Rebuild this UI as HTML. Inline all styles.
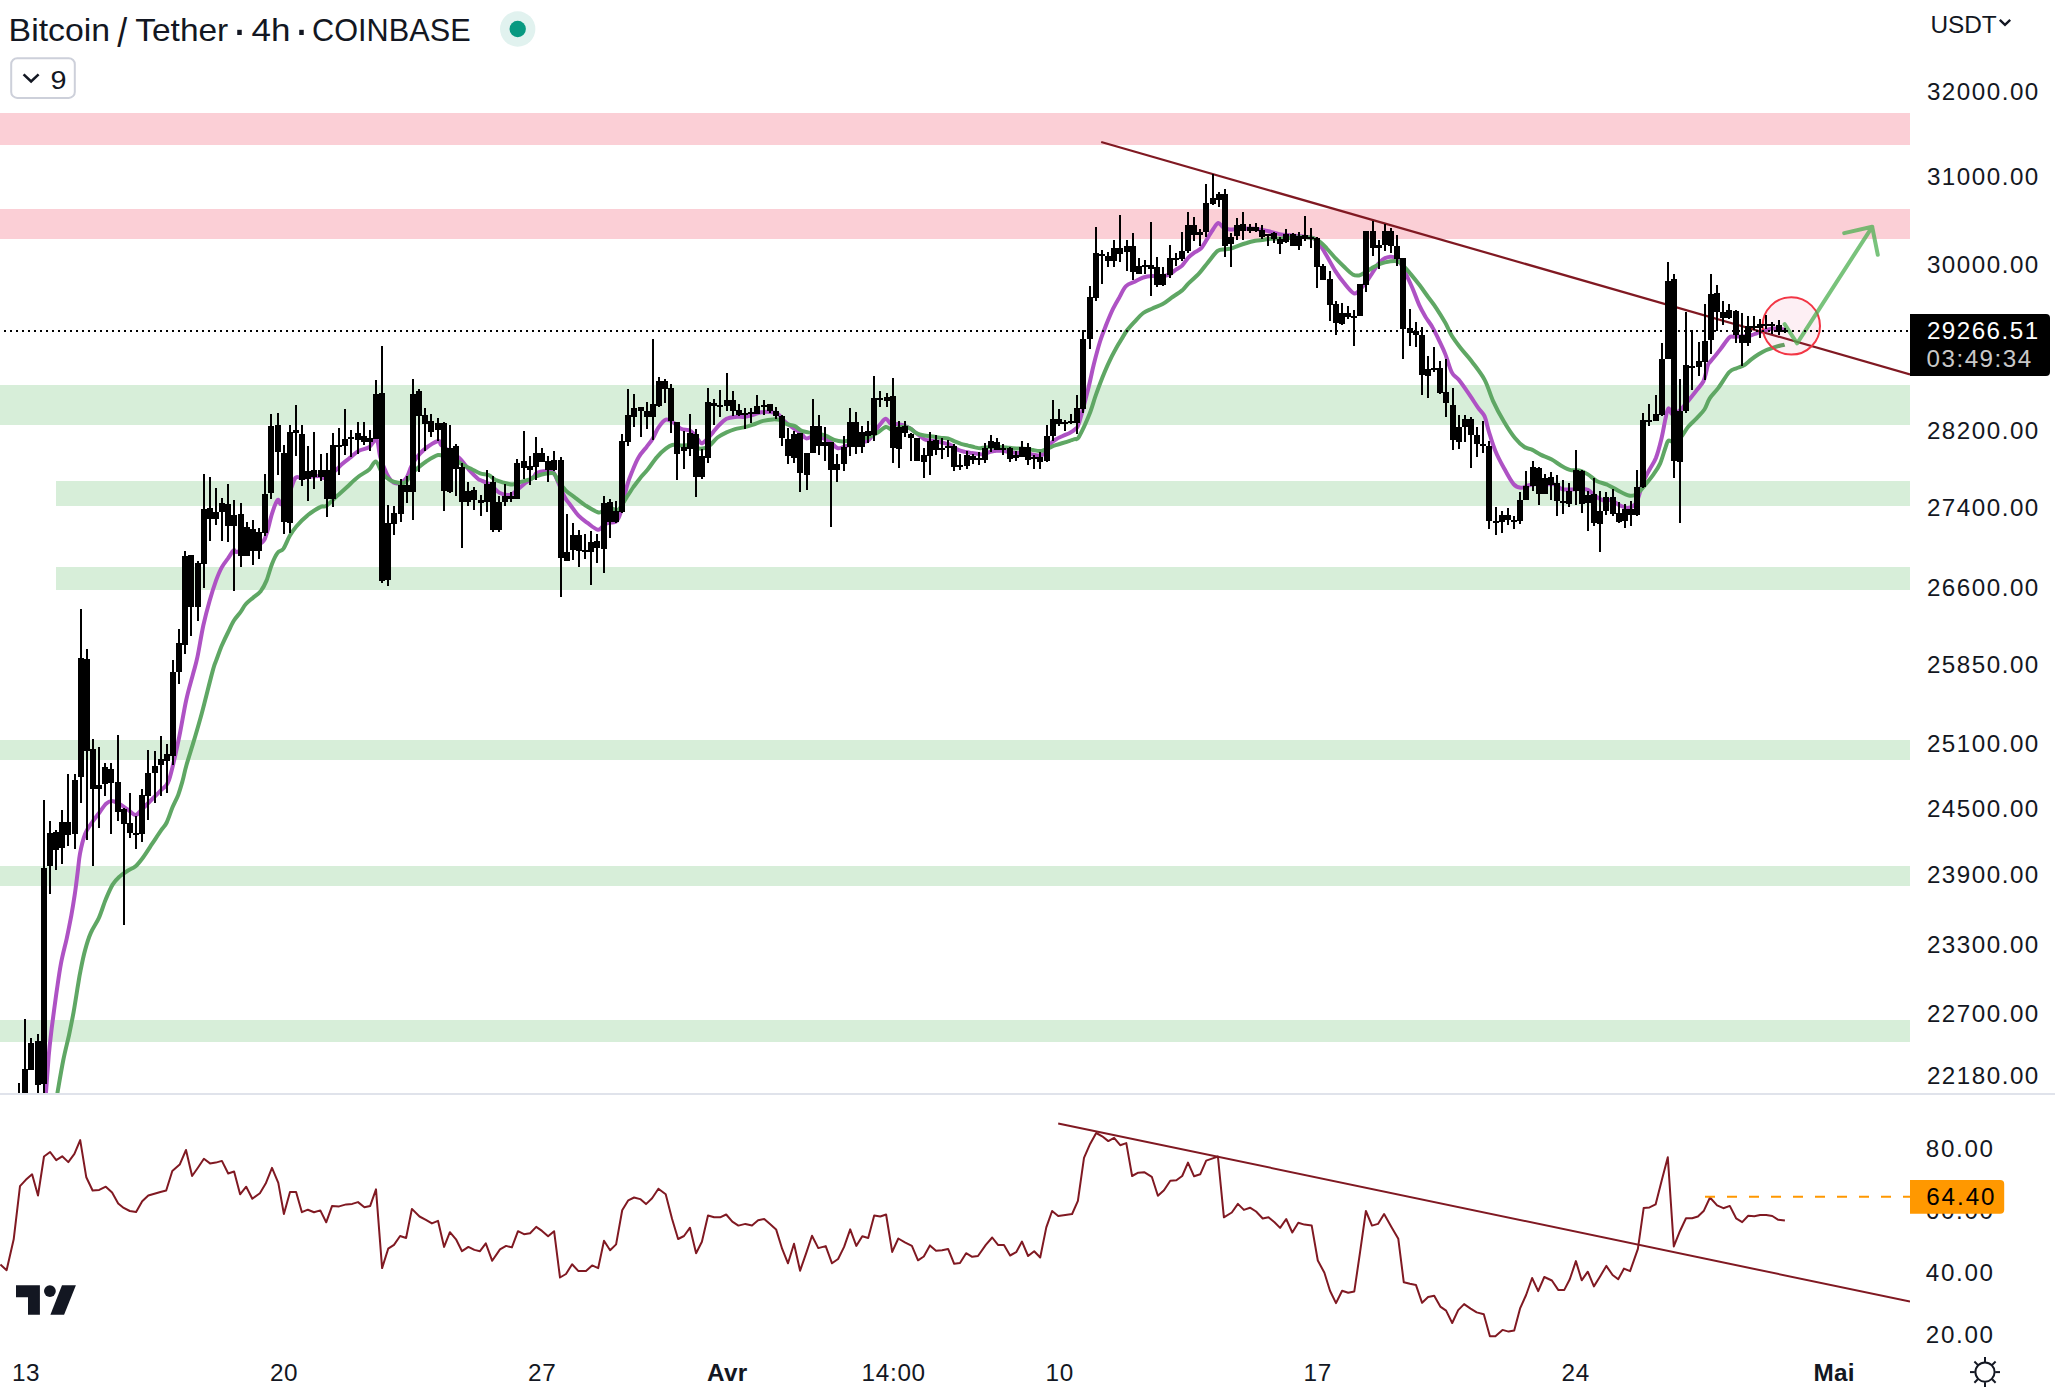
<!DOCTYPE html>
<html lang="fr"><head><meta charset="utf-8"><title>Bitcoin / Tether · 4h · COINBASE</title>
<style>
html,body{margin:0;padding:0;background:#fff;}
body{width:2055px;height:1392px;overflow:hidden;position:relative;font-family:"Liberation Sans",sans-serif;}
svg{position:absolute;left:0;top:0;display:block}
text{font-family:"Liberation Sans",sans-serif;fill:#131722}
</style></head><body>
<svg width="2055" height="1392" viewBox="0 0 2055 1392">
<defs><clipPath id="pc"><rect x="0" y="0" width="1910" height="1093"/></clipPath>
<clipPath id="rc"><rect x="0" y="1095" width="1910" height="262"/></clipPath></defs>
<rect width="2055" height="1392" fill="#fff"/>

<rect x="0" y="113" width="1910" height="32" fill="#FBCFD6"/>
<rect x="0" y="209" width="1910" height="30" fill="#FBCFD6"/>
<rect x="0" y="385" width="1910" height="40" fill="#D7EED9"/>
<rect x="56" y="481" width="1854" height="25" fill="#D7EED9"/>
<rect x="56" y="567" width="1854" height="23" fill="#D7EED9"/>
<rect x="0" y="740" width="1910" height="20" fill="#D7EED9"/>
<rect x="0" y="866" width="1910" height="20" fill="#D7EED9"/>
<rect x="0" y="1020" width="1910" height="22" fill="#D7EED9"/>
<g clip-path="url(#pc)">
<path d="M45.3 1101.8 C45.9 1094.2 47.7 1068.1 48.7 1055.9 C49.8 1043.6 50.5 1038.6 51.7 1028.3 C53.0 1017.9 54.8 1004.5 56.3 993.8 C57.9 983.1 59.2 973.1 60.9 963.9 C62.6 954.7 64.9 946.7 66.7 938.6 C68.4 930.6 69.9 922.9 71.3 915.6 C72.6 908.4 73.6 902.2 74.7 894.9 C75.8 887.7 76.8 878.9 77.7 872.0 C78.6 865.1 78.8 859.9 80.0 853.6 C81.2 847.2 83.1 839.2 85.1 834.0 C87.0 828.9 89.7 826.0 92.0 822.5 C94.3 819.1 96.6 816.4 98.9 813.3 C101.1 810.3 103.6 806.2 105.7 804.1 C107.9 802.1 109.7 801.1 112.0 801.1 C114.3 801.1 116.9 802.8 119.5 804.1 C122.1 805.5 124.9 807.6 127.6 809.4 C130.3 811.2 133.1 815.1 135.6 814.9 C138.1 814.8 139.8 811.3 142.5 808.7 C145.2 806.2 148.7 802.6 151.7 799.5 C154.8 796.5 158.0 793.6 160.9 790.3 C163.8 787.1 166.0 788.3 169.0 780.0 C171.9 771.7 175.6 753.8 178.5 740.4 C181.4 727.1 183.8 710.8 186.3 699.7 C188.7 688.6 191.3 680.8 193.1 673.7 C195.0 666.6 195.7 665.2 197.4 657.2 C199.1 649.2 201.3 634.8 203.3 625.5 C205.4 616.1 207.4 608.6 209.5 601.2 C211.6 593.7 214.0 586.2 216.0 580.6 C218.1 575.0 219.6 571.3 221.6 567.6 C223.7 563.8 226.1 561.1 228.2 558.2 C230.2 555.3 232.2 551.3 233.8 550.2 C235.3 549.1 233.0 552.8 237.5 551.7 C242.0 550.5 256.0 546.2 260.9 543.3 C265.7 540.3 264.6 538.9 266.5 533.9 C268.3 529.0 270.2 519.1 272.1 513.4 C273.9 507.7 276.1 501.5 277.7 499.9 C279.2 498.4 279.5 505.1 281.4 504.0 C283.3 503.0 286.5 498.1 288.9 493.8 C291.2 489.4 293.2 480.5 295.4 477.9 C297.6 475.3 298.1 478.2 301.9 477.9 C305.8 477.6 315.0 476.0 318.8 476.0 C322.5 476.0 321.6 478.8 324.4 477.9 C327.2 477.0 332.6 472.8 335.6 470.4 C338.5 468.1 339.6 466.1 342.1 463.9 C344.6 461.7 347.7 459.5 350.5 457.4 C353.3 455.2 355.8 452.5 358.9 450.8 C362.0 449.1 366.2 449.0 369.2 447.1 C372.1 445.2 374.8 437.9 376.7 439.6 C378.5 441.3 378.7 451.6 380.4 457.4 C382.1 463.1 384.8 470.0 386.9 474.2 C389.1 478.4 391.1 481.2 393.5 482.6 C395.8 484.0 398.8 483.3 400.9 482.6 C403.1 481.8 404.8 480.5 406.5 477.9 C408.3 475.3 409.7 469.8 411.2 466.7 C412.7 463.6 413.3 462.2 415.4 459.3 C417.6 456.5 420.3 452.7 424.1 449.6 C427.8 446.6 435.2 441.7 438.1 441.0 C440.9 440.3 439.0 443.3 441.3 445.3 C443.6 447.3 448.8 450.5 452.1 452.8 C455.3 455.2 457.8 456.4 460.7 459.3 C463.6 462.2 466.4 466.9 469.3 470.1 C472.2 473.3 475.8 476.9 477.9 478.7 C480.1 480.5 480.1 479.8 482.2 480.9 C484.4 481.9 488.0 483.2 490.9 485.2 C493.7 487.1 496.2 491.1 499.5 492.7 C502.7 494.3 507.0 495.6 510.3 494.9 C513.5 494.2 516.4 490.4 518.9 488.4 C521.4 486.4 522.8 485.0 525.3 483.0 C527.9 481.0 532.1 478.2 534.0 476.6 C535.8 474.9 534.6 474.0 536.5 473.0 C538.3 472.1 542.4 471.1 545.1 470.9 C547.8 470.6 550.7 470.1 552.6 471.5 C554.6 472.9 555.0 475.3 556.9 479.5 C558.9 483.7 562.1 492.3 564.5 496.7 C566.8 501.1 568.6 502.6 570.9 505.8 C573.3 508.9 575.8 512.9 578.5 515.7 C581.2 518.5 583.9 520.3 587.1 522.6 C590.3 524.9 595.0 529.3 597.9 529.7 C600.8 530.1 602.4 525.9 604.4 524.7 C606.3 523.6 607.8 523.1 609.7 522.6 C611.7 522.0 614.4 523.1 616.2 521.5 C618.0 519.9 618.7 518.8 620.5 512.9 C622.3 507.0 625.0 493.0 627.0 485.9 C629.0 478.9 630.4 475.7 632.4 470.9 C634.3 466.0 636.5 460.8 638.8 456.9 C641.2 452.9 644.0 450.2 646.4 447.2 C648.7 444.1 650.9 441.8 652.8 438.5 C654.8 435.3 656.1 430.9 658.2 427.8 C660.4 424.6 663.3 420.5 665.8 419.6 C668.3 418.7 670.8 420.8 673.3 422.4 C675.8 423.9 678.0 427.4 680.9 428.8 C683.7 430.3 687.9 429.4 690.6 431.0 C693.3 432.5 695.2 436.1 697.0 438.1 C698.8 440.2 699.7 443.0 701.3 443.3 C703.0 443.5 704.7 441.5 706.7 439.6 C708.7 437.7 711.0 434.6 713.2 432.1 C715.3 429.6 717.4 426.7 719.7 424.5 C721.9 422.3 723.9 420.1 726.5 418.8 C729.0 417.5 732.2 417.2 735.1 416.9 C738.0 416.5 740.8 417.1 743.7 416.9 C746.6 416.6 749.5 415.9 752.3 415.1 C755.2 414.4 758.1 412.9 760.9 412.3 C763.8 411.8 766.7 411.6 769.6 411.9 C772.4 412.2 775.7 412.4 778.2 414.1 C780.7 415.7 782.1 419.3 784.7 421.6 C787.2 423.9 790.6 426.2 793.3 428.1 C796.0 430.0 798.7 431.3 800.8 433.0 C803.0 434.7 803.9 438.0 806.2 438.4 C808.5 438.8 812.1 435.7 814.8 435.6 C817.5 435.5 819.9 436.8 822.4 437.8 C824.9 438.7 827.4 439.7 829.9 441.4 C832.4 443.1 834.9 447.3 837.5 448.1 C840.0 448.9 842.3 447.2 845.0 446.4 C847.7 445.6 850.7 443.9 853.6 443.1 C856.5 442.4 859.7 442.6 862.2 442.1 C864.8 441.5 866.6 441.7 868.7 439.9 C870.9 438.1 873.2 434.0 875.2 431.3 C877.1 428.6 878.8 425.8 880.6 423.8 C882.4 421.7 884.2 418.7 885.9 418.8 C887.7 418.9 889.2 423.3 891.3 424.2 C893.5 425.1 896.2 423.7 898.9 424.2 C901.6 424.6 905.0 425.8 907.5 427.0 C910.0 428.2 911.2 429.3 914.0 431.3 C916.8 433.3 921.4 437.7 924.3 439.2 C927.2 440.8 928.9 440.1 931.3 440.5 C933.6 440.9 935.9 441.2 938.3 441.7 C940.6 442.2 943.1 442.8 945.3 443.4 C947.5 444.0 949.4 444.3 951.4 445.4 C953.5 446.4 955.4 448.5 957.6 449.6 C959.7 450.6 962.2 451.2 964.6 451.8 C966.9 452.3 969.2 452.7 971.6 453.1 C973.9 453.4 976.5 453.7 978.6 453.9 C980.6 454.2 982.1 454.7 983.8 454.4 C985.6 454.1 987.3 452.7 989.1 452.2 C990.8 451.6 992.4 451.3 994.3 451.0 C996.2 450.8 998.6 450.4 1000.5 450.4 C1002.4 450.5 1003.8 450.9 1005.7 451.3 C1007.6 451.7 1009.7 452.3 1011.9 452.6 C1014.0 452.9 1016.5 453.0 1018.9 453.1 C1021.2 453.2 1023.7 453.0 1025.9 453.2 C1028.1 453.5 1030.0 454.0 1032.0 454.4 C1034.0 454.8 1036.4 455.4 1038.1 455.5 C1039.9 455.6 1041.1 455.7 1042.5 454.8 C1044.0 454.0 1045.6 452.3 1046.9 450.4 C1048.2 448.6 1048.9 445.7 1050.4 443.9 C1051.9 442.0 1053.6 440.8 1055.7 439.5 C1057.7 438.2 1060.3 437.1 1062.7 436.0 C1065.0 434.9 1067.6 434.0 1069.7 432.9 C1071.7 431.8 1073.4 431.0 1074.9 429.4 C1076.5 427.8 1076.6 430.1 1078.9 423.3 C1081.1 416.5 1085.8 398.2 1088.3 388.4 C1090.8 378.7 1091.7 372.6 1093.7 364.7 C1095.7 356.8 1098.0 347.9 1100.2 341.0 C1102.3 334.2 1104.5 329.2 1106.6 323.8 C1108.8 318.4 1110.9 313.2 1113.1 308.7 C1115.3 304.2 1117.4 300.6 1119.6 296.9 C1121.7 293.1 1123.5 288.6 1126.0 286.1 C1128.5 283.6 1131.8 283.2 1134.7 281.8 C1137.5 280.3 1140.4 278.4 1143.3 277.5 C1146.1 276.5 1149.0 276.1 1151.9 275.9 C1154.8 275.8 1157.6 276.6 1160.5 276.4 C1163.4 276.2 1166.6 275.7 1169.1 274.7 C1171.7 273.6 1173.4 271.4 1175.6 269.9 C1177.8 268.4 1179.9 267.7 1182.1 265.6 C1184.2 263.5 1186.4 259.6 1188.5 257.4 C1190.7 255.2 1192.8 253.8 1195.0 252.2 C1197.2 250.7 1199.3 250.4 1201.5 247.9 C1203.6 245.5 1206.0 240.7 1207.9 237.6 C1209.9 234.4 1211.6 231.4 1213.3 229.0 C1215.0 226.5 1216.7 223.2 1218.3 222.9 C1219.9 222.6 1221.1 226.2 1223.0 227.2 C1224.9 228.3 1227.0 229.1 1229.5 229.4 C1232.0 229.7 1234.9 229.1 1238.1 229.0 C1241.3 228.8 1245.3 228.5 1248.9 228.5 C1252.5 228.6 1256.4 228.9 1259.7 229.4 C1262.9 229.8 1265.3 230.5 1268.6 231.2 C1271.9 232.0 1275.4 233.3 1279.4 234.1 C1283.3 234.8 1288.4 235.1 1292.3 235.6 C1296.3 236.0 1299.5 236.2 1303.1 236.6 C1306.7 237.1 1311.0 236.9 1313.9 238.4 C1316.8 239.8 1318.2 242.3 1320.3 245.3 C1322.5 248.2 1324.3 251.7 1326.8 256.0 C1329.3 260.3 1332.6 266.6 1335.4 271.1 C1338.3 275.6 1341.0 279.3 1344.1 283.0 C1347.1 286.7 1351.2 292.1 1353.8 293.3 C1356.3 294.6 1357.2 292.2 1359.1 290.5 C1361.1 288.8 1363.4 285.8 1365.6 283.0 C1367.8 280.1 1369.9 276.5 1372.1 273.3 C1374.2 270.0 1376.4 266.1 1378.5 263.6 C1380.7 261.1 1382.5 259.3 1385.0 258.2 C1387.5 257.1 1391.1 256.4 1393.6 257.1 C1396.1 257.8 1397.9 259.4 1400.1 262.5 C1402.2 265.6 1404.4 270.9 1406.6 275.4 C1408.7 279.9 1410.9 284.4 1413.0 289.4 C1415.2 294.5 1417.3 300.9 1419.5 305.6 C1421.6 310.3 1423.8 313.9 1425.9 317.5 C1428.1 321.0 1430.3 323.4 1432.4 327.2 C1434.6 330.9 1436.7 335.6 1438.9 340.1 C1441.0 344.6 1443.2 348.7 1445.3 354.1 C1447.5 359.5 1449.6 368.2 1451.8 372.4 C1454.0 376.7 1455.7 375.9 1458.6 379.6 C1461.6 383.3 1466.2 390.0 1469.4 394.7 C1472.6 399.3 1475.5 404.0 1478.0 407.6 C1480.5 411.2 1482.7 412.3 1484.5 416.2 C1486.3 420.2 1487.0 425.5 1488.8 431.3 C1490.6 437.0 1492.7 444.6 1495.3 450.7 C1497.8 456.8 1500.8 462.4 1503.9 467.9 C1506.9 473.5 1510.7 480.8 1513.6 484.1 C1516.5 487.4 1518.8 487.5 1521.1 487.8 C1523.5 488.0 1525.1 486.2 1527.6 485.6 C1530.1 485.0 1533.3 484.2 1536.2 484.1 C1539.1 484.0 1542.0 484.7 1544.8 484.7 C1547.7 484.7 1550.6 483.4 1553.4 484.1 C1556.3 484.8 1559.2 488.2 1562.1 489.1 C1564.9 489.9 1567.8 489.5 1570.7 489.5 C1573.6 489.5 1576.4 489.0 1579.3 489.1 C1582.2 489.1 1585.4 488.8 1587.9 489.9 C1590.4 491.0 1591.9 493.8 1594.4 495.5 C1596.9 497.2 1600.1 499.5 1603.0 500.3 C1605.9 501.0 1608.8 499.4 1611.6 500.3 C1614.5 501.2 1617.4 504.4 1620.3 505.6 C1623.1 506.9 1626.2 508.4 1628.9 507.8 C1631.6 507.2 1634.1 506.3 1636.5 502.2 C1638.8 498.0 1640.8 488.1 1642.9 482.8 C1645.1 477.4 1647.2 474.0 1649.4 469.8 C1651.6 465.7 1653.9 463.0 1655.9 458.0 C1657.8 452.9 1659.6 446.3 1661.2 439.7 C1662.9 433.0 1664.4 423.3 1665.6 418.1 C1666.7 412.9 1667.3 409.1 1668.4 408.4 C1669.4 407.7 1670.2 413.4 1672.0 413.8 C1673.9 414.2 1676.9 412.7 1679.6 410.6 C1682.3 408.4 1685.3 404.3 1688.2 400.9 C1691.1 397.4 1694.3 393.3 1696.8 390.1 C1699.3 386.9 1701.7 384.5 1703.3 381.5 C1704.8 378.5 1705.4 374.8 1706.2 372.0 C1707.0 369.2 1707.1 366.5 1708.1 364.5 C1709.0 362.5 1709.6 362.7 1711.7 360.1 C1713.8 357.6 1717.6 352.9 1720.5 349.1 C1723.4 345.4 1727.0 339.5 1729.3 337.4 C1731.6 335.4 1732.0 337.0 1734.4 336.8 C1736.9 336.6 1741.2 336.6 1744.0 336.3 C1746.8 336.0 1749.1 335.8 1751.3 335.2 C1753.5 334.7 1754.7 333.9 1757.2 333.0 C1759.6 332.2 1763.3 330.8 1765.9 330.1 C1768.6 329.4 1770.8 328.8 1773.3 328.6 C1775.7 328.4 1778.5 328.8 1780.6 329.0 C1782.7 329.2 1784.9 329.6 1785.7 329.7" fill="none" stroke="#AE52C4" stroke-width="4" stroke-linejoin="round"/>
<path d="M55.9 1101.8 C56.1 1100.3 56.2 1099.5 57.5 1092.6 C58.7 1085.7 61.3 1070.0 63.2 1060.5 C65.1 1050.9 67.2 1043.2 69.0 1035.2 C70.7 1027.1 72.1 1020.2 73.6 1012.2 C75.0 1004.1 76.6 993.8 77.7 986.9 C78.9 980.0 79.2 976.9 80.5 970.8 C81.7 964.7 83.3 956.4 85.1 950.1 C86.8 943.8 88.5 938.2 90.8 932.9 C93.1 927.5 96.4 923.5 98.9 917.9 C101.3 912.4 103.4 905.1 105.7 899.5 C108.0 894.0 110.3 888.4 112.6 884.6 C114.9 880.8 117.0 878.9 119.5 876.6 C122.0 874.3 124.9 872.5 127.6 870.8 C130.3 869.1 133.1 868.3 135.6 866.2 C138.1 864.1 139.8 861.8 142.5 858.2 C145.2 854.5 148.7 849.0 151.7 844.4 C154.8 839.8 158.4 834.2 160.9 830.6 C163.4 826.9 164.8 826.4 166.7 822.5 C168.6 818.7 170.5 812.2 172.4 807.6 C174.3 803.0 176.4 799.5 178.2 794.9 C179.9 790.3 181.4 784.9 182.8 780.0 C184.1 775.1 184.4 772.3 186.3 765.7 C188.1 759.1 191.4 749.2 194.0 740.4 C196.6 731.7 198.7 724.8 201.8 713.3 C204.9 701.8 210.1 680.3 212.5 671.6 C214.9 662.8 214.5 665.2 216.0 660.9 C217.6 656.7 219.6 650.8 221.6 646.0 C223.7 641.2 226.1 636.2 228.2 632.0 C230.2 627.8 231.8 624.1 233.8 620.8 C235.8 617.5 238.3 615.2 240.3 612.4 C242.3 609.6 243.7 606.5 245.9 604.0 C248.1 601.5 250.9 599.6 253.4 597.4 C255.9 595.3 258.7 593.7 260.9 590.9 C263.0 588.1 264.6 585.1 266.5 580.6 C268.3 576.1 270.2 568.5 272.1 563.8 C273.9 559.1 275.8 555.1 277.7 552.6 C279.5 550.1 281.2 551.7 283.3 548.9 C285.3 546.1 287.6 539.5 289.8 535.8 C292.0 532.1 293.4 529.9 296.3 526.5 C299.3 523.0 303.5 518.5 307.6 515.3 C311.6 512.0 317.5 508.4 320.6 506.9 C323.7 505.3 323.4 507.8 326.2 505.9 C329.0 504.0 334.0 498.8 337.4 495.6 C340.9 492.5 343.4 490.4 346.8 487.2 C350.2 484.1 354.2 479.9 358.0 477.0 C361.7 474.0 366.2 472.1 369.2 469.5 C372.1 466.9 373.7 461.2 375.7 461.5 C377.7 461.8 379.5 468.6 381.3 471.4 C383.2 474.1 384.8 476.1 386.9 477.9 C389.1 479.7 391.4 481.2 394.4 482.0 C397.4 482.8 402.0 483.6 404.7 482.6 C407.3 481.6 408.5 478.1 410.3 476.0 C412.1 474.0 412.8 472.5 415.4 470.1 C418.1 467.7 422.4 464.0 426.2 461.5 C430.0 459.0 434.8 455.7 438.1 455.0 C441.3 454.3 442.9 456.4 445.6 457.2 C448.3 457.9 451.4 458.1 454.2 459.3 C457.1 460.6 460.0 463.1 462.8 464.7 C465.7 466.3 468.6 467.6 471.5 469.0 C474.3 470.4 477.2 472.3 480.1 473.3 C483.0 474.3 486.2 474.0 488.7 475.0 C491.2 476.1 492.7 478.5 495.2 479.8 C497.7 481.0 500.9 481.8 503.8 482.6 C506.7 483.4 509.5 484.6 512.4 484.5 C515.3 484.4 518.2 482.8 521.0 481.9 C523.9 481.1 527.1 480.3 529.7 479.4 C532.2 478.4 533.9 477.2 536.5 476.2 C539.0 475.3 542.2 474.1 545.1 473.7 C548.0 473.2 551.6 472.3 553.7 473.4 C555.9 474.6 556.0 477.8 558.0 480.6 C560.0 483.4 562.7 487.4 565.6 490.3 C568.4 493.1 571.8 495.2 575.3 497.8 C578.7 500.4 582.2 503.3 586.0 505.8 C589.9 508.2 595.5 511.8 598.5 512.5 C601.6 513.1 602.1 510.3 604.4 509.7 C606.6 509.0 609.6 508.6 611.9 508.6 C614.2 508.6 615.8 511.6 618.4 509.7 C620.9 507.7 624.5 500.5 627.0 496.7 C629.5 493.0 631.3 490.1 633.4 487.0 C635.6 484.0 637.6 481.3 639.9 478.4 C642.2 475.5 644.6 473.4 647.5 469.8 C650.3 466.2 654.1 460.4 657.2 456.9 C660.2 453.3 663.3 450.6 665.8 448.7 C668.3 446.7 669.7 445.5 672.2 445.0 C674.8 444.5 677.8 445.3 680.9 445.4 C683.9 445.5 687.3 445.1 690.6 445.6 C693.8 446.2 697.2 448.6 700.3 448.7 C703.3 448.7 706.0 447.9 708.9 446.1 C711.8 444.2 714.6 439.7 717.5 437.5 C720.4 435.2 723.5 433.8 726.5 432.4 C729.4 431.0 732.2 430.0 735.1 429.1 C738.0 428.3 740.8 428.1 743.7 427.4 C746.6 426.7 749.1 425.9 752.3 424.8 C755.6 423.8 759.7 421.8 763.1 420.9 C766.5 420.1 769.9 419.6 772.8 419.4 C775.7 419.3 778.0 419.3 780.3 420.1 C782.7 420.9 784.5 423.2 786.8 424.2 C789.1 425.2 791.8 424.8 794.4 425.9 C796.9 427.0 799.6 429.8 801.9 430.9 C804.2 431.9 805.8 431.9 808.4 432.4 C810.9 432.8 814.1 432.9 817.0 433.4 C819.9 434.0 822.7 434.5 825.6 435.6 C828.5 436.7 831.4 438.9 834.2 439.9 C837.1 440.9 840.0 441.4 842.8 441.4 C845.7 441.4 848.6 440.3 851.5 439.9 C854.3 439.5 857.2 439.3 860.1 438.8 C863.0 438.4 865.8 438.1 868.7 437.1 C871.6 436.1 874.5 434.5 877.3 432.8 C880.2 431.1 883.4 427.4 885.9 427.0 C888.5 426.6 889.9 430.2 892.4 430.2 C894.9 430.2 898.2 427.3 901.0 427.0 C903.9 426.6 907.1 427.1 909.7 428.1 C912.2 429.1 913.7 431.8 916.1 433.0 C918.6 434.3 921.7 435.0 924.3 435.5 C926.8 436.1 928.6 435.8 931.3 436.2 C933.9 436.5 937.3 437.4 940.0 437.7 C942.8 438.1 945.6 437.9 947.9 438.4 C950.3 439.0 951.9 440.3 954.0 441.2 C956.2 442.1 958.7 443.1 961.1 443.9 C963.4 444.6 965.7 445.0 968.1 445.6 C970.4 446.2 973.0 446.9 975.1 447.4 C977.1 447.8 978.6 448.2 980.3 448.2 C982.1 448.2 983.5 447.6 985.6 447.4 C987.6 447.2 990.3 447.0 992.6 446.9 C994.9 446.9 997.3 447.0 999.6 447.1 C1001.9 447.2 1004.4 447.2 1006.6 447.4 C1008.8 447.6 1010.7 448.1 1012.7 448.2 C1014.8 448.4 1016.7 448.4 1018.9 448.5 C1021.1 448.6 1023.5 448.6 1025.9 448.9 C1028.2 449.1 1030.5 449.6 1032.9 450.0 C1035.2 450.4 1037.8 451.1 1039.9 451.0 C1041.9 451.0 1043.4 450.2 1045.1 449.6 C1046.9 448.9 1048.6 448.1 1050.4 447.4 C1052.1 446.6 1053.6 445.9 1055.7 445.2 C1057.7 444.5 1060.3 443.7 1062.7 443.0 C1065.0 442.3 1067.6 441.5 1069.7 440.8 C1071.7 440.1 1073.4 439.7 1074.9 439.0 C1076.5 438.4 1076.5 441.0 1078.9 436.9 C1081.3 432.7 1086.6 421.3 1089.4 414.3 C1092.2 407.3 1093.7 401.0 1095.9 394.9 C1098.0 388.8 1100.2 383.1 1102.3 377.7 C1104.5 372.3 1106.6 367.3 1108.8 362.6 C1110.9 357.9 1113.1 353.6 1115.3 349.7 C1117.4 345.7 1119.7 342.1 1121.7 338.9 C1123.7 335.6 1125.0 333.1 1127.1 330.3 C1129.3 327.4 1132.0 324.5 1134.7 321.6 C1137.3 318.8 1140.4 315.2 1143.3 313.0 C1146.1 310.9 1148.7 310.2 1151.9 308.7 C1155.1 307.2 1159.4 305.8 1162.7 304.0 C1165.9 302.2 1168.1 300.2 1171.3 297.9 C1174.5 295.7 1179.2 292.8 1182.1 290.4 C1184.9 287.9 1185.7 286.1 1188.5 283.3 C1191.4 280.4 1196.1 276.6 1199.3 273.1 C1202.5 269.7 1204.9 266.1 1207.9 262.4 C1211.0 258.7 1214.8 253.1 1217.6 250.9 C1220.5 248.8 1222.8 249.9 1225.2 249.4 C1227.5 249.0 1229.5 249.0 1231.6 248.4 C1233.8 247.8 1235.6 246.7 1238.1 245.8 C1240.6 244.9 1243.9 243.8 1246.7 243.0 C1249.6 242.1 1252.5 241.4 1255.3 240.8 C1258.2 240.3 1261.4 240.1 1264.0 239.7 C1266.5 239.4 1267.8 239.0 1270.8 238.8 C1273.7 238.6 1278.0 238.5 1281.6 238.4 C1285.1 238.2 1288.7 237.9 1292.3 237.7 C1295.9 237.5 1299.5 237.0 1303.1 237.1 C1306.7 237.2 1311.0 237.5 1313.9 238.4 C1316.8 239.2 1318.2 240.3 1320.3 242.0 C1322.5 243.7 1324.3 245.8 1326.8 248.5 C1329.3 251.2 1332.6 255.1 1335.4 258.2 C1338.3 261.2 1341.2 264.1 1344.1 266.8 C1346.9 269.5 1350.2 272.9 1352.7 274.4 C1355.2 275.8 1357.0 275.8 1359.1 275.4 C1361.3 275.1 1363.4 273.5 1365.6 272.2 C1367.8 270.9 1369.6 269.3 1372.1 267.9 C1374.6 266.5 1377.8 264.7 1380.7 263.6 C1383.6 262.5 1386.4 261.8 1389.3 261.4 C1392.2 261.1 1395.4 260.5 1397.9 261.4 C1400.4 262.3 1402.2 264.7 1404.4 266.8 C1406.6 269.0 1408.3 271.3 1410.9 274.4 C1413.4 277.4 1416.6 281.4 1419.5 285.1 C1422.4 288.9 1425.2 293.0 1428.1 297.0 C1431.0 300.9 1433.9 304.5 1436.7 308.8 C1439.6 313.1 1442.8 318.4 1445.3 322.8 C1447.9 327.3 1449.2 331.5 1451.8 335.8 C1454.4 340.0 1457.5 344.1 1460.8 348.3 C1464.1 352.6 1467.6 356.0 1471.6 361.2 C1475.5 366.5 1480.9 372.9 1484.5 379.6 C1488.1 386.2 1489.9 394.1 1493.1 401.1 C1496.3 408.1 1500.3 415.5 1503.9 421.6 C1507.5 427.7 1511.2 433.5 1514.7 437.8 C1518.1 442.0 1521.5 445.1 1524.4 447.0 C1527.2 449.0 1529.2 448.4 1531.9 449.6 C1534.6 450.9 1537.3 453.0 1540.5 454.6 C1543.8 456.2 1547.7 457.4 1551.3 459.3 C1554.9 461.2 1558.8 464.4 1562.1 466.2 C1565.3 468.0 1567.8 469.4 1570.7 470.1 C1573.6 470.8 1576.4 469.8 1579.3 470.5 C1582.2 471.2 1585.1 472.7 1587.9 474.4 C1590.8 476.1 1593.3 479.1 1596.6 480.9 C1599.8 482.6 1603.7 483.1 1607.3 484.7 C1610.9 486.4 1614.5 488.8 1618.1 490.6 C1621.7 492.4 1626.0 494.8 1628.9 495.5 C1631.8 496.2 1633.7 495.4 1635.3 494.9 C1637.0 494.4 1637.0 494.1 1638.6 492.5 C1640.2 490.8 1642.6 488.0 1645.1 484.9 C1647.6 481.9 1651.2 477.7 1653.7 474.1 C1656.2 470.5 1658.2 467.9 1660.2 463.4 C1662.1 458.9 1664.2 451.0 1665.6 447.2 C1666.9 443.4 1667.1 441.6 1668.4 440.7 C1669.6 439.8 1671.1 442.3 1673.1 441.8 C1675.2 441.3 1678.1 440.0 1680.6 437.5 C1683.2 435.0 1685.5 430.0 1688.2 426.7 C1690.9 423.5 1694.1 421.0 1696.8 418.1 C1699.5 415.2 1702.2 412.8 1704.4 409.5 C1706.5 406.2 1707.4 401.9 1709.7 398.3 C1712.1 394.7 1715.1 392.3 1718.4 387.9 C1721.6 383.6 1726.3 375.3 1729.3 372.0 C1732.4 368.7 1734.2 369.3 1736.6 368.2 C1739.1 367.1 1741.5 366.7 1744.0 365.3 C1746.4 363.8 1748.9 361.2 1751.3 359.4 C1753.7 357.6 1756.2 355.8 1758.6 354.3 C1761.1 352.7 1763.5 351.3 1765.9 350.2 C1768.4 349.1 1770.8 348.5 1773.3 347.7 C1775.7 346.9 1778.7 346.0 1780.6 345.5 C1782.5 345.0 1784.0 344.9 1784.6 344.7" fill="none" stroke="#5FA764" stroke-width="4" stroke-linejoin="round"/>
<line x1="1101.2" y1="142" x2="1910" y2="374.4" stroke="#801922" stroke-width="2.2"/>
<circle cx="1791.3" cy="325.9" r="28.7" fill="rgba(233,30,99,0.07)" stroke="#F23645" stroke-width="2"/>
<path d="M1784.6 324.2L1797.1 343.3L1872.2 226.8M1844.2 233.1L1872.2 226.8L1877.8 254.8" fill="none" stroke="#4CAF50" stroke-opacity="0.75" stroke-width="4" stroke-linecap="round" stroke-linejoin="round"/>
<path d="M18 1083h2V1111h-2zM24 1019h2V1101h-2zM30 1038h2V1070h-2zM37 1034h2V1101h-2zM43 800h2V1097h-2zM49 821h2V894h-2zM55 830h2V870h-2zM61 810h2V864h-2zM67 774h2V846h-2zM74 774h2V849h-2zM80 609h2V803h-2zM86 649h2V840h-2zM92 739h2V866h-2zM98 747h2V828h-2zM104 763h2V796h-2zM110 763h2V834h-2zM117 735h2V821h-2zM123 808h2V925h-2zM129 793h2V838h-2zM135 816h2V849h-2zM141 789h2V842h-2zM147 750h2V820h-2zM154 751h2V803h-2zM160 736h2V796h-2zM166 744h2V793h-2zM172 660h2V765h-2zM178 629h2V684h-2zM184 551h2V654h-2zM190 555h2V636h-2zM197 561h2V621h-2zM203 474h2V588h-2zM209 477h2V541h-2zM215 488h2V525h-2zM221 498h2V541h-2zM227 484h2V542h-2zM233 500h2V591h-2zM240 503h2V567h-2zM246 522h2V556h-2zM252 520h2V565h-2zM258 528h2V559h-2zM264 474h2V536h-2zM270 414h2V499h-2zM277 413h2V475h-2zM283 445h2V534h-2zM289 425h2V533h-2zM295 405h2V456h-2zM301 425h2V486h-2zM307 446h2V501h-2zM313 432h2V489h-2zM320 454h2V481h-2zM326 453h2V517h-2zM332 433h2V507h-2zM338 428h2V475h-2zM344 409h2V455h-2zM350 430h2V457h-2zM357 422h2V454h-2zM363 422h2V445h-2zM369 430h2V451h-2zM375 380h2V439h-2zM381 346h2V583h-2zM387 505h2V586h-2zM393 506h2V535h-2zM400 479h2V522h-2zM406 476h2V503h-2zM412 379h2V520h-2zM418 389h2V472h-2zM424 408h2V451h-2zM430 414h2V437h-2zM437 418h2V441h-2zM443 422h2V511h-2zM449 425h2V493h-2zM455 444h2V496h-2zM461 463h2V548h-2zM467 482h2V506h-2zM473 487h2V510h-2zM480 495h2V516h-2zM486 470h2V512h-2zM492 476h2V532h-2zM498 496h2V532h-2zM504 484h2V506h-2zM510 492h2V502h-2zM516 459h2V499h-2zM523 431h2V479h-2zM529 456h2V485h-2zM535 437h2V480h-2zM541 448h2V462h-2zM547 456h2V482h-2zM553 451h2V471h-2zM560 457h2V597h-2zM566 514h2V561h-2zM572 523h2V560h-2zM578 530h2V567h-2zM584 534h2V559h-2zM590 531h2V585h-2zM596 534h2V563h-2zM603 496h2V573h-2zM609 499h2V538h-2zM615 501h2V523h-2zM621 434h2V513h-2zM627 389h2V446h-2zM633 394h2V427h-2zM640 407h2V437h-2zM646 402h2V429h-2zM652 339h2V440h-2zM658 377h2V407h-2zM664 379h2V403h-2zM670 384h2V433h-2zM676 422h2V480h-2zM683 431h2V469h-2zM689 414h2V456h-2zM695 429h2V497h-2zM701 449h2V479h-2zM707 388h2V463h-2zM713 399h2V425h-2zM719 390h2V417h-2zM726 373h2V411h-2zM732 391h2V416h-2zM738 404h2V416h-2zM744 408h2V429h-2zM750 408h2V423h-2zM756 395h2V414h-2zM763 400h2V415h-2zM769 404h2V413h-2zM775 407h2V419h-2zM781 415h2V446h-2zM787 428h2V464h-2zM793 431h2V463h-2zM799 433h2V492h-2zM806 453h2V490h-2zM812 399h2V453h-2zM818 415h2V455h-2zM824 427h2V461h-2zM830 442h2V527h-2zM836 454h2V482h-2zM843 436h2V471h-2zM849 408h2V456h-2zM855 412h2V454h-2zM861 426h2V453h-2zM867 421h2V443h-2zM873 376h2V441h-2zM879 391h2V407h-2zM886 393h2V407h-2zM892 378h2V463h-2zM898 421h2V468h-2zM904 421h2V437h-2zM910 433h2V461h-2zM916 438h2V461h-2zM923 448h2V478h-2zM929 432h2V475h-2zM935 435h2V455h-2zM941 438h2V459h-2zM947 440h2V457h-2zM953 444h2V471h-2zM959 454h2V470h-2zM966 451h2V469h-2zM972 454h2V464h-2zM978 452h2V465h-2zM984 443h2V463h-2zM990 435h2V452h-2zM996 438h2V450h-2zM1002 444h2V455h-2zM1009 447h2V462h-2zM1015 451h2V461h-2zM1021 441h2V457h-2zM1027 443h2V465h-2zM1033 455h2V469h-2zM1039 452h2V469h-2zM1046 425h2V462h-2zM1052 400h2V441h-2zM1058 409h2V426h-2zM1064 420h2V431h-2zM1070 414h2V424h-2zM1076 395h2V434h-2zM1082 330h2V413h-2zM1089 286h2V349h-2zM1095 227h2V301h-2zM1101 250h2V284h-2zM1107 252h2V267h-2zM1113 240h2V267h-2zM1119 215h2V262h-2zM1126 240h2V271h-2zM1132 233h2V280h-2zM1138 258h2V274h-2zM1144 260h2V274h-2zM1150 222h2V296h-2zM1156 257h2V287h-2zM1162 267h2V286h-2zM1169 245h2V278h-2zM1175 253h2V266h-2zM1181 232h2V261h-2zM1187 212h2V253h-2zM1193 217h2V241h-2zM1199 229h2V246h-2zM1205 184h2V237h-2zM1212 174h2V205h-2zM1218 192h2V207h-2zM1224 189h2V257h-2zM1230 233h2V267h-2zM1236 218h2V240h-2zM1242 212h2V240h-2zM1249 224h2V233h-2zM1255 223h2V232h-2zM1261 225h2V239h-2zM1267 234h2V246h-2zM1273 232h2V243h-2zM1279 237h2V254h-2zM1285 229h2V243h-2zM1292 233h2V246h-2zM1298 232h2V250h-2zM1304 216h2V241h-2zM1310 228h2V248h-2zM1316 237h2V288h-2zM1322 264h2V280h-2zM1329 271h2V321h-2zM1335 301h2V335h-2zM1341 303h2V325h-2zM1347 306h2V319h-2zM1353 310h2V346h-2zM1359 284h2V316h-2zM1365 231h2V292h-2zM1372 221h2V256h-2zM1378 240h2V269h-2zM1384 224h2V251h-2zM1390 228h2V253h-2zM1396 235h2V266h-2zM1402 258h2V359h-2zM1409 309h2V346h-2zM1415 322h2V347h-2zM1421 327h2V395h-2zM1427 356h2V398h-2zM1433 347h2V372h-2zM1439 361h2V394h-2zM1445 359h2V417h-2zM1452 388h2V450h-2zM1458 415h2V449h-2zM1464 415h2V442h-2zM1470 417h2V468h-2zM1476 427h2V457h-2zM1482 421h2V453h-2zM1488 441h2V529h-2zM1495 507h2V535h-2zM1501 511h2V533h-2zM1507 508h2V525h-2zM1513 516h2V529h-2zM1519 492h2V524h-2zM1525 471h2V500h-2zM1532 461h2V491h-2zM1538 467h2V505h-2zM1544 474h2V494h-2zM1550 472h2V500h-2zM1556 475h2V516h-2zM1562 480h2V514h-2zM1568 483h2V507h-2zM1575 450h2V505h-2zM1581 470h2V513h-2zM1587 491h2V531h-2zM1593 478h2V526h-2zM1599 491h2V552h-2zM1605 492h2V515h-2zM1612 489h2V516h-2zM1618 502h2V523h-2zM1624 504h2V528h-2zM1630 501h2V526h-2zM1636 470h2V516h-2zM1642 413h2V488h-2zM1648 404h2V426h-2zM1655 395h2V421h-2zM1661 343h2V416h-2zM1667 262h2V359h-2zM1673 274h2V478h-2zM1679 379h2V523h-2zM1685 312h2V413h-2zM1691 330h2V390h-2zM1698 342h2V376h-2zM1704 304h2V380h-2zM1710 274h2V354h-2zM1716 285h2V331h-2zM1722 301h2V325h-2zM1728 304h2V319h-2zM1735 310h2V343h-2zM1741 313h2V366h-2zM1747 316h2V346h-2zM1753 316h2V330h-2zM1759 319h2V338h-2zM1765 315h2V329h-2zM1771 322h2V334h-2zM1778 320h2V335h-2zM1784 328h2V333h-2zM16 1101h6V1111h-6zM22 1069h6V1101h-6zM28 1043h6V1070h-6zM35 1041h6V1085h-6zM41 868h6V1084h-6zM47 833h6V866h-6zM53 832h6V850h-6zM59 822h6V848h-6zM65 822h6V835h-6zM72 780h6V834h-6zM78 658h6V777h-6zM84 659h6V751h-6zM90 749h6V789h-6zM96 785h6V789h-6zM102 767h6V784h-6zM108 769h6V783h-6zM115 782h6V812h-6zM121 809h6V824h-6zM127 823h6V833h-6zM133 833h6V835h-6zM139 795h6V834h-6zM145 773h6V796h-6zM152 766h6V773h-6zM158 759h6V765h-6zM164 754h6V761h-6zM170 672h6V756h-6zM176 643h6V672h-6zM182 556h6V645h-6zM188 555h6V607h-6zM195 563h6V607h-6zM201 509h6V564h-6zM207 508h6V519h-6zM213 512h6V519h-6zM219 503h6V512h-6zM225 504h6V526h-6zM231 515h6V526h-6zM238 514h6V556h-6zM244 527h6V556h-6zM250 529h6V551h-6zM256 532h6V551h-6zM262 494h6V533h-6zM268 426h6V493h-6zM275 425h6V452h-6zM281 453h6V522h-6zM287 432h6V523h-6zM293 430h6V433h-6zM299 434h6V480h-6zM305 471h6V479h-6zM311 470h6V477h-6zM318 470h6V477h-6zM324 470h6V499h-6zM330 445h6V499h-6zM336 445h6V447h-6zM342 439h6V446h-6zM348 437h6V439h-6zM355 433h6V440h-6zM361 436h6V442h-6zM367 438h6V442h-6zM373 394h6V439h-6zM379 393h6V581h-6zM385 523h6V580h-6zM391 513h6V524h-6zM398 485h6V514h-6zM404 485h6V492h-6zM410 394h6V492h-6zM416 391h6V416h-6zM422 415h6V424h-6zM428 421h6V432h-6zM435 423h6V430h-6zM441 423h6V491h-6zM447 448h6V492h-6zM453 446h6V469h-6zM459 467h6V502h-6zM465 491h6V502h-6zM471 490h6V500h-6zM478 500h6V503h-6zM484 484h6V502h-6zM490 482h6V530h-6zM496 502h6V530h-6zM502 496h6V502h-6zM508 496h6V499h-6zM514 463h6V499h-6zM521 461h6V468h-6zM527 466h6V470h-6zM533 453h6V467h-6zM539 453h6V462h-6zM545 461h6V470h-6zM551 460h6V470h-6zM558 460h6V558h-6zM564 552h6V561h-6zM570 535h6V550h-6zM576 535h6V551h-6zM582 550h6V552h-6zM588 542h6V552h-6zM594 541h6V548h-6zM601 503h6V549h-6zM607 502h6V522h-6zM613 511h6V522h-6zM619 441h6V512h-6zM625 415h6V442h-6zM631 408h6V417h-6zM638 407h6V411h-6zM644 411h6V417h-6zM650 404h6V417h-6zM656 381h6V406h-6zM662 381h6V389h-6zM668 388h6V421h-6zM674 422h6V454h-6zM681 447h6V451h-6zM687 433h6V449h-6zM693 434h6V477h-6zM699 456h6V477h-6zM705 402h6V458h-6zM711 403h6V406h-6zM717 405h6V407h-6zM724 400h6V406h-6zM730 400h6V411h-6zM736 410h6V415h-6zM742 413h6V415h-6zM748 412h6V414h-6zM754 406h6V414h-6zM761 405h6V407h-6zM767 404h6V411h-6zM773 411h6V416h-6zM779 416h6V438h-6zM785 439h6V456h-6zM791 434h6V458h-6zM797 433h6V473h-6zM804 453h6V475h-6zM810 426h6V453h-6zM816 426h6V446h-6zM822 442h6V446h-6zM828 442h6V470h-6zM834 464h6V470h-6zM841 447h6V464h-6zM847 422h6V447h-6zM853 422h6V447h-6zM859 432h6V447h-6zM865 431h6V436h-6zM871 398h6V435h-6zM877 398h6V400h-6zM884 397h6V401h-6zM890 396h6V448h-6zM896 427h6V449h-6zM902 426h6V433h-6zM908 434h6V438h-6zM914 438h6V461h-6zM921 455h6V462h-6zM927 441h6V456h-6zM933 440h6V450h-6zM939 448h6V450h-6zM945 446h6V448h-6zM951 446h6V467h-6zM957 465h6V467h-6zM964 455h6V466h-6zM970 456h6V460h-6zM976 458h6V460h-6zM982 448h6V460h-6zM988 441h6V448h-6zM994 442h6V450h-6zM1000 448h6V450h-6zM1007 448h6V459h-6zM1013 455h6V458h-6zM1019 447h6V457h-6zM1025 447h6V460h-6zM1031 457h6V459h-6zM1037 457h6V462h-6zM1044 436h6V461h-6zM1050 419h6V436h-6zM1056 419h6V424h-6zM1062 422h6V424h-6zM1068 421h6V423h-6zM1074 408h6V423h-6zM1080 339h6V409h-6zM1087 297h6V339h-6zM1093 253h6V298h-6zM1099 254h6V256h-6zM1105 256h6V261h-6zM1111 248h6V261h-6zM1117 248h6V254h-6zM1124 246h6V252h-6zM1130 246h6V272h-6zM1136 266h6V274h-6zM1142 265h6V267h-6zM1148 265h6V269h-6zM1154 267h6V285h-6zM1160 274h6V285h-6zM1167 258h6V275h-6zM1173 258h6V260h-6zM1179 251h6V259h-6zM1185 225h6V251h-6zM1191 225h6V235h-6zM1197 232h6V235h-6zM1203 203h6V232h-6zM1210 198h6V204h-6zM1216 194h6V200h-6zM1222 194h6V246h-6zM1228 237h6V244h-6zM1234 225h6V236h-6zM1240 224h6V231h-6zM1247 227h6V231h-6zM1253 227h6V231h-6zM1259 230h6V237h-6zM1265 234h6V236h-6zM1271 233h6V239h-6zM1277 239h6V244h-6zM1283 234h6V242h-6zM1290 234h6V246h-6zM1296 236h6V246h-6zM1302 235h6V239h-6zM1308 237h6V239h-6zM1314 238h6V267h-6zM1320 266h6V280h-6zM1327 279h6V305h-6zM1333 304h6V323h-6zM1339 313h6V324h-6zM1345 313h6V317h-6zM1351 316h6V318h-6zM1357 284h6V316h-6zM1363 231h6V285h-6zM1370 231h6V248h-6zM1376 245h6V248h-6zM1382 231h6V245h-6zM1388 231h6V246h-6zM1394 246h6V259h-6zM1400 258h6V329h-6zM1407 328h6V333h-6zM1413 331h6V335h-6zM1419 335h6V375h-6zM1425 369h6V376h-6zM1431 368h6V370h-6zM1437 368h6V393h-6zM1443 392h6V403h-6zM1450 405h6V440h-6zM1456 427h6V442h-6zM1462 419h6V427h-6zM1468 419h6V435h-6zM1474 435h6V444h-6zM1480 444h6V446h-6zM1486 446h6V521h-6zM1493 521h6V523h-6zM1499 515h6V522h-6zM1505 515h6V520h-6zM1511 520h6V522h-6zM1517 500h6V521h-6zM1523 486h6V500h-6zM1530 467h6V486h-6zM1536 468h6V494h-6zM1542 478h6V494h-6zM1548 477h6V485h-6zM1554 483h6V501h-6zM1560 501h6V503h-6zM1566 491h6V504h-6zM1573 470h6V491h-6zM1579 471h6V504h-6zM1585 495h6V503h-6zM1591 494h6V523h-6zM1597 511h6V524h-6zM1603 497h6V511h-6zM1610 497h6V514h-6zM1616 513h6V522h-6zM1622 509h6V521h-6zM1628 509h6V515h-6zM1634 487h6V515h-6zM1640 420h6V487h-6zM1646 420h6V422h-6zM1653 414h6V421h-6zM1659 359h6V415h-6zM1665 281h6V359h-6zM1671 279h6V461h-6zM1677 411h6V462h-6zM1683 365h6V411h-6zM1689 366h6V368h-6zM1696 361h6V367h-6zM1702 341h6V362h-6zM1708 294h6V340h-6zM1714 293h6V312h-6zM1720 312h6V318h-6zM1726 310h6V318h-6zM1733 311h6V335h-6zM1739 335h6V343h-6zM1745 326h6V343h-6zM1751 326h6V328h-6zM1757 324h6V328h-6zM1763 324h6V326h-6zM1769 324h6V326h-6zM1776 325h6V332h-6zM1782 330h6V332h-6z" fill="#000" shape-rendering="crispEdges"/>
<line x1="4" y1="331" x2="1910" y2="331" stroke="#000" stroke-width="2" stroke-dasharray="2 4"/>
</g>
<rect x="0" y="1093" width="2055" height="2" fill="#E0E3EB"/>
<g clip-path="url(#rc)">
<polyline points="0.4,1264.6 6.6,1270.2 13.7,1239.3 20.0,1186.2 25.8,1179.8 32.1,1174.3 38.0,1195.5 44.0,1156.5 50.1,1152.0 56.2,1160.1 62.2,1156.3 68.3,1162.1 74.4,1153.8 80.2,1140.1 86.3,1177.3 92.6,1190.5 99.2,1189.9 105.8,1186.7 112.1,1192.5 118.2,1203.4 123.7,1207.9 129.8,1211.0 136.1,1212.0 142.2,1201.3 148.3,1195.5 154.4,1193.7 160.4,1192.0 166.2,1190.5 172.3,1171.0 179.7,1164.6 186.0,1150.0 192.1,1176.0 197.9,1167.7 203.9,1158.8 210.0,1163.4 215.8,1162.6 221.9,1160.9 228.2,1173.5 234.1,1171.5 240.1,1194.3 246.2,1186.7 252.3,1198.8 259.9,1193.2 265.7,1183.6 272.0,1167.9 278.3,1182.9 283.9,1214.0 290.0,1192.0 296.1,1192.0 301.9,1212.2 307.9,1209.7 314.0,1212.2 320.3,1210.4 326.2,1222.3 332.0,1206.1 339.1,1206.4 346.2,1204.4 352.2,1203.9 358.0,1202.1 364.4,1207.2 370.2,1205.9 376.0,1189.4 382.1,1268.1 388.2,1248.7 394.0,1244.9 400.1,1236.0 406.1,1238.0 411.9,1208.9 419.5,1216.5 425.9,1219.8 431.9,1223.4 438.0,1220.8 444.1,1246.9 449.9,1232.2 456.0,1239.3 462.0,1251.2 468.4,1246.9 474.4,1249.9 480.0,1251.2 485.8,1243.3 492.2,1260.8 500.0,1249.4 506.1,1245.9 511.9,1247.4 518.0,1231.2 524.0,1234.2 530.1,1233.2 536.2,1226.9 542.0,1230.9 548.1,1236.3 554.1,1231.2 560.0,1277.5 566.0,1274.0 572.1,1264.3 578.2,1270.9 586.0,1270.9 592.1,1265.4 598.2,1268.1 604.0,1240.8 610.1,1250.2 616.1,1244.4 622.2,1210.2 628.3,1200.3 634.1,1197.5 640.2,1199.1 646.0,1204.1 652.1,1198.3 658.4,1188.7 665.7,1194.3 672.1,1219.0 678.1,1239.0 684.0,1236.0 690.0,1227.7 696.1,1253.2 701.9,1241.8 708.0,1215.5 714.1,1217.3 720.1,1217.3 726.2,1214.5 732.3,1221.6 738.4,1225.6 745.4,1223.9 752.0,1225.4 758.1,1220.3 764.2,1219.0 770.0,1224.1 776.1,1229.4 782.1,1248.7 788.0,1263.3 794.0,1243.8 800.1,1270.7 806.2,1253.2 812.0,1235.7 818.3,1248.1 825.7,1246.1 832.0,1263.3 838.1,1259.0 844.1,1246.9 850.2,1229.4 856.3,1245.9 862.3,1236.3 868.2,1238.0 874.2,1215.5 880.3,1216.5 886.1,1214.5 892.2,1251.9 898.3,1238.5 904.9,1242.3 911.9,1245.9 918.0,1260.3 923.8,1256.5 929.9,1245.4 936.0,1250.7 942.1,1250.2 948.1,1248.9 954.2,1263.8 960.0,1263.1 966.1,1253.2 972.2,1256.8 978.0,1256.0 985.8,1244.9 992.2,1237.5 998.0,1244.9 1000.0,1245.1 1004.0,1245.1 1010.1,1255.5 1016.2,1252.2 1022.0,1241.6 1028.1,1256.0 1034.2,1251.2 1040.2,1257.5 1046.3,1227.4 1052.1,1211.0 1058.2,1216.0 1065.3,1215.0 1072.1,1214.0 1077.9,1200.8 1084.0,1157.8 1090.1,1143.9 1096.2,1133.0 1102.2,1136.3 1108.3,1141.1 1114.1,1137.8 1120.2,1145.2 1126.3,1143.1 1132.1,1176.0 1138.2,1172.7 1144.2,1172.2 1151.8,1176.8 1157.9,1195.8 1164.0,1190.2 1170.3,1180.8 1176.4,1180.3 1182.2,1176.0 1188.0,1162.6 1194.1,1176.3 1200.2,1174.3 1206.2,1160.6 1212.0,1158.6 1217.9,1156.5 1223.9,1217.3 1231.8,1212.5 1237.9,1203.9 1243.9,1209.9 1250.0,1207.7 1256.1,1211.5 1262.7,1218.5 1268.5,1217.3 1274.5,1222.3 1280.1,1227.9 1286.2,1219.0 1292.3,1232.5 1298.3,1222.8 1304.4,1224.6 1311.7,1225.6 1317.8,1260.5 1324.4,1272.7 1330.0,1290.7 1336.0,1303.1 1342.1,1290.7 1348.2,1292.7 1354.3,1291.4 1360.1,1251.9 1365.9,1211.0 1372.0,1225.6 1378.0,1223.9 1384.1,1214.0 1391.7,1227.4 1398.3,1238.8 1403.8,1282.3 1409.9,1283.8 1416.0,1285.1 1422.1,1302.8 1428.1,1297.0 1434.2,1295.7 1440.3,1306.6 1446.1,1310.6 1452.2,1323.0 1458.2,1310.1 1464.1,1304.1 1470.6,1308.6 1476.7,1312.4 1483.8,1314.2 1489.9,1336.2 1495.4,1336.2 1502.5,1329.9 1508.6,1331.6 1514.2,1330.4 1520.2,1308.1 1526.1,1295.0 1532.1,1278.0 1538.2,1291.2 1544.3,1277.0 1551.9,1280.5 1558.2,1289.9 1564.3,1289.9 1569.8,1279.3 1575.9,1261.1 1581.7,1280.3 1587.8,1271.7 1593.9,1286.4 1599.9,1276.7 1606.3,1265.9 1612.6,1275.0 1618.2,1279.3 1624.0,1268.6 1630.1,1271.2 1637.9,1248.9 1643.7,1207.9 1649.5,1207.4 1655.6,1204.4 1661.7,1180.6 1667.8,1157.3 1673.8,1246.4 1679.9,1231.2 1686.0,1218.3 1692.1,1218.3 1697.9,1216.5 1703.9,1210.7 1710.0,1197.5 1717.1,1205.4 1723.4,1208.2 1729.8,1205.9 1736.1,1218.3 1742.2,1222.1 1748.2,1215.8 1754.3,1216.3 1760.1,1215.0 1766.2,1215.0 1772.3,1216.0 1778.3,1219.8 1784.9,1220.6" fill="none" stroke="#801922" stroke-width="2" stroke-linejoin="round"/>
<line x1="1058.2" y1="1123.4" x2="1910" y2="1301.5" stroke="#801922" stroke-width="2"/>
<line x1="1705" y1="1196.8" x2="1910" y2="1196.8" stroke="#FF9800" stroke-width="2" stroke-dasharray="10 12"/>
</g>
<path d="M16 1285.2H39.9V1314.7H28V1297.2H16z" fill="#131722"/><circle cx="49.9" cy="1291.1" r="5.9" fill="#131722"/><path d="M62 1285.2H75.9L64.1 1314.7H50.4z" fill="#131722"/>
<text y="40.9" font-size="32"><tspan x="8.60" font-size="32" textLength="101.5" lengthAdjust="spacingAndGlyphs">Bitcoin</tspan><tspan x="117.30" dy="6.0" font-size="41" textLength="9.9" lengthAdjust="spacingAndGlyphs">/</tspan><tspan x="135.25" dy="-6.0" font-size="32" textLength="93.0" lengthAdjust="spacingAndGlyphs">Tether</tspan><tspan x="231.60" dy="5.0" font-size="48" textLength="16.0" lengthAdjust="spacingAndGlyphs">·</tspan><tspan x="251.60" dy="-5.0" font-size="32" textLength="38.9" lengthAdjust="spacingAndGlyphs">4h</tspan><tspan x="293.40" dy="5.0" font-size="48" textLength="16.0" lengthAdjust="spacingAndGlyphs">·</tspan><tspan x="312.10" dy="-5.0" font-size="32" textLength="158.5" lengthAdjust="spacingAndGlyphs">COINBASE</tspan></text>
<circle cx="517.7" cy="29" r="17.7" fill="#E1F2EF"/><circle cx="517.7" cy="29" r="8.2" fill="#089981"/>
<rect x="11.2" y="58.3" width="63.6" height="39.6" rx="6" fill="#fff" stroke="#CDD0DA" stroke-width="2"/>
<path d="M23.6 74.4L31.1 81.4L38.6 74.4" fill="none" stroke="#131722" stroke-width="2.6"/>
<text x="50.6" y="89.3" font-size="26.6" textLength="16" lengthAdjust="spacingAndGlyphs">9</text>
<text x="1930.4" y="32.9" font-size="24.4" textLength="66.2" lengthAdjust="spacing">USDT</text>
<path d="M1999.8 19.9L2005 24.8L2010.2 19.9" fill="none" stroke="#131722" stroke-width="2.4"/>
<text x="1926.9" y="100.0" font-size="24.2" textLength="111.4" lengthAdjust="spacing">32000.00</text>
<text x="1926.9" y="185.0" font-size="24.2" textLength="111.4" lengthAdjust="spacing">31000.00</text>
<text x="1926.9" y="273.0" font-size="24.2" textLength="111.4" lengthAdjust="spacing">30000.00</text>
<text x="1926.9" y="439.3" font-size="24.2" textLength="111.4" lengthAdjust="spacing">28200.00</text>
<text x="1926.9" y="515.9" font-size="24.2" textLength="111.4" lengthAdjust="spacing">27400.00</text>
<text x="1926.9" y="595.8" font-size="24.2" textLength="111.4" lengthAdjust="spacing">26600.00</text>
<text x="1926.9" y="672.8" font-size="24.2" textLength="111.4" lengthAdjust="spacing">25850.00</text>
<text x="1926.9" y="751.9" font-size="24.2" textLength="111.4" lengthAdjust="spacing">25100.00</text>
<text x="1926.9" y="817.3" font-size="24.2" textLength="111.4" lengthAdjust="spacing">24500.00</text>
<text x="1926.9" y="883.2" font-size="24.2" textLength="111.4" lengthAdjust="spacing">23900.00</text>
<text x="1926.9" y="952.5" font-size="24.2" textLength="111.4" lengthAdjust="spacing">23300.00</text>
<text x="1926.9" y="1021.9" font-size="24.2" textLength="111.4" lengthAdjust="spacing">22700.00</text>
<text x="1926.9" y="1083.8" font-size="24.2" textLength="111.4" lengthAdjust="spacing">22180.00</text>
<text x="1925.8" y="1157.1" font-size="24.2" textLength="67.2" lengthAdjust="spacing">80.00</text>
<text x="1925.8" y="1219.0" font-size="24.2" textLength="67.2" lengthAdjust="spacing">60.00</text>
<text x="1925.8" y="1280.9" font-size="24.2" textLength="67.2" lengthAdjust="spacing">40.00</text>
<text x="1925.8" y="1343.0" font-size="24.2" textLength="67.2" lengthAdjust="spacing">20.00</text>
<path d="M1910 314H2046a4 4 0 0 1 4 4V372a4 4 0 0 1 -4 4H1910z" fill="#000"/>
<text x="1926.9" y="339.1" font-size="24.2" textLength="111.2" lengthAdjust="spacing" style="fill:#fff">29266.51</text>
<text x="1926.6" y="367" font-size="24.2" textLength="104.5" lengthAdjust="spacing" style="fill:#C8C8C8">03:49:34</text>
<path d="M1910 1180H2000.2a4 4 0 0 1 4 4V1209.8a4 4 0 0 1 -4 4H1910z" fill="#FF9800"/>
<text x="1926.2" y="1204.6" font-size="24.2" textLength="68.3" lengthAdjust="spacing" style="fill:#000">64.40</text>
<text x="26.1" y="1381.2" font-size="24.3" text-anchor="middle" style="letter-spacing:0.7px">13</text>
<text x="284.1" y="1381.2" font-size="24.3" text-anchor="middle" style="letter-spacing:0.7px">20</text>
<text x="542.2" y="1381.2" font-size="24.3" text-anchor="middle" style="letter-spacing:0.7px">27</text>
<text x="727.2" y="1381.2" font-size="24.3" text-anchor="middle" style="letter-spacing:0.3px" font-weight="bold">Avr</text>
<text x="893.7" y="1381.2" font-size="24.3" text-anchor="middle" style="letter-spacing:0.7px">14:00</text>
<text x="1059.7" y="1381.2" font-size="24.3" text-anchor="middle" style="letter-spacing:0.7px">10</text>
<text x="1317.8" y="1381.2" font-size="24.3" text-anchor="middle" style="letter-spacing:0.7px">17</text>
<text x="1575.7" y="1381.2" font-size="24.3" text-anchor="middle" style="letter-spacing:0.7px">24</text>
<text x="1834.2" y="1381.2" font-size="24.3" text-anchor="middle" style="letter-spacing:0.3px" font-weight="bold">Mai</text>
<g transform="translate(1985 1372.1)" fill="none" stroke="#131722" stroke-width="2"><circle r="9.6"/><line x1="10.20" y1="0.00" x2="15.00" y2="0.00"/><line x1="7.21" y1="7.21" x2="10.61" y2="10.61"/><line x1="0.00" y1="10.20" x2="0.00" y2="15.00"/><line x1="-7.21" y1="7.21" x2="-10.61" y2="10.61"/><line x1="-10.20" y1="0.00" x2="-15.00" y2="0.00"/><line x1="-7.21" y1="-7.21" x2="-10.61" y2="-10.61"/><line x1="-0.00" y1="-10.20" x2="-0.00" y2="-15.00"/><line x1="7.21" y1="-7.21" x2="10.61" y2="-10.61"/></g>
</svg></body></html>
